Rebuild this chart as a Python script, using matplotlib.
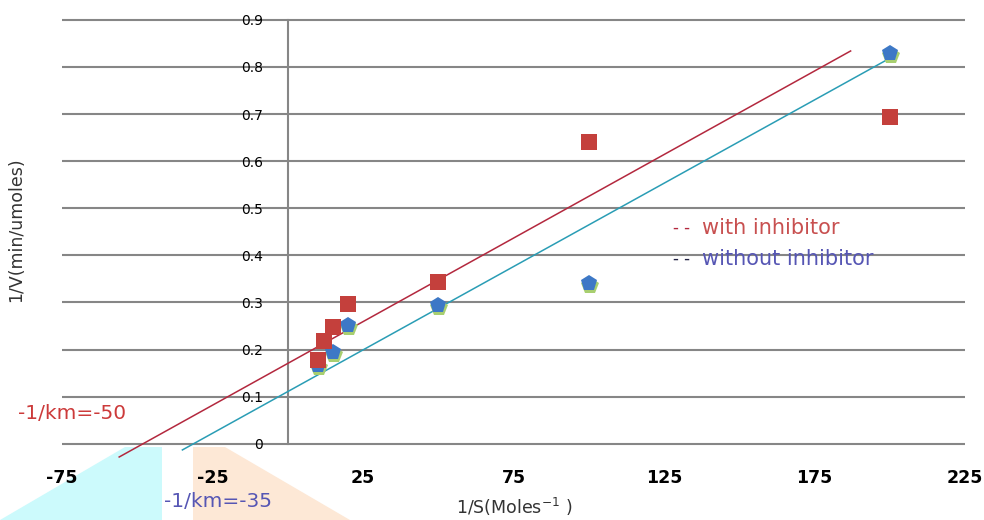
import matplotlib
matplotlib.use("Agg")
import matplotlib.pyplot as plt
import matplotlib.transforms as mtransforms
from matplotlib.patches import Polygon

plt.rcParams["font.family"] = ["DejaVu Sans"]

# data
inh_x = [10, 12, 15, 20, 50, 100, 200]
inh_y = [0.177, 0.219, 0.249, 0.296, 0.344, 0.641, 0.694]
noinh_x = [10, 15, 20, 50, 100, 200]
noinh_y = [0.168, 0.195, 0.253, 0.295, 0.342, 0.830]

# hand-drawn lines (end points)
inh_line_x = [-56, 187]
inh_line_y = [-0.028, 0.834]
noinh_line_x = [-35, 199]
noinh_line_y = [-0.013, 0.815]

x_ticks = [-75, -25, 25, 75, 125, 175, 225]
y_ticks = [0, 0.1, 0.2, 0.3, 0.4, 0.5, 0.6, 0.7, 0.8, 0.9]
y_tick_labels = ["0", "0.1", "0.2", "0.3", "0.4", "0.5", "0.6", "0.7", "0.8", "0.9"]

fig = plt.figure(figsize=(9.84, 5.2), dpi=100)

# pale decorative wedges under the axis
fig.patches.append(Polygon([(0 / 984, 0), (125 / 984, 73 / 520), (162 / 984, 73 / 520), (162 / 984, 0)],
                           closed=True, transform=fig.transFigure, facecolor="#ccfafc",
                           edgecolor="none", zorder=-5))
fig.patches.append(Polygon([(193 / 984, 73 / 520), (225 / 984, 73 / 520), (350 / 984, 0), (193 / 984, 0)],
                           closed=True, transform=fig.transFigure, facecolor="#fde8d6",
                           edgecolor="none", zorder=-5))

ax = fig.add_axes([62 / 984, 1 - 465 / 520, 903 / 984, 447 / 520])
ax.patch.set_alpha(0)

ax.set_xlim(-75, 225)
ax.set_ylim(-0.045, 0.904)

ax.set_yticks(y_ticks)
ax.set_yticklabels(y_tick_labels, fontsize=12.5, color="#333333")
ax.set_xticks(x_ticks)
ax.set_xticklabels([str(v) for v in x_ticks], fontsize=12.5, color="black", fontweight="bold")
ax.tick_params(axis="y", length=0, pad=18)
ax.tick_params(axis="x", length=0, pad=3)

ax.grid(axis="y", color="#868686", linewidth=1.5, zorder=1)
ax.set_axisbelow(True)
for side in ("top", "right", "bottom"):
    ax.spines[side].set_visible(False)
ax.spines["left"].set_position(("data", 0))
ax.spines["left"].set_bounds(0, 0.9)
ax.spines["left"].set_color("#868686")
ax.spines["left"].set_linewidth(1.5)

ax.plot(inh_line_x, inh_line_y, color="#b3283e", linewidth=1.1, zorder=3, clip_on=False)
ax.plot(noinh_line_x, noinh_line_y, color="#2a9db5", linewidth=1.1, zorder=3, clip_on=False)

shadow = mtransforms.offset_copy(ax.transData, fig=fig, x=1, y=-3, units="dots")
ax.plot(noinh_x, noinh_y, linestyle="", marker="p", markersize=13, color="#a8cf70",
        markeredgewidth=0, transform=shadow, zorder=4)
ax.plot(noinh_x, noinh_y, linestyle="", marker="p", markersize=12, color="#3d78c6",
        markeredgewidth=0, zorder=5)
ax.plot(inh_x, inh_y, linestyle="", marker="s", markersize=12, color="#c4403c",
        markeredgewidth=0, zorder=6)

ax.text(-89.5, 0.065, "-1/km=-50", color="#cc3a3a", fontsize=14.5, ha="left", va="center")
ax.text(-41, -0.122, "-1/km=-35", color="#5656b4", fontsize=14.5, ha="left", va="center",
        clip_on=False)
ax.text(128, 0.458, "- -", color="#b3283e", fontsize=12, ha="left", va="center")
ax.text(137.5, 0.458, "with inhibitor", color="#c85050", fontsize=15, ha="left", va="center")
ax.text(128, 0.392, "- -", color="#222244", fontsize=12, ha="left", va="center")
ax.text(137.5, 0.392, "without inhibitor", color="#5656b4", fontsize=15, ha="left", va="center")

fig.text(514 / 984, 1 - 507 / 520, "1/S(Moles$^{-1}$ )", fontsize=12.5, color="#333333",
         ha="center", va="center")
fig.text(16 / 984, 1 - 230 / 520, "1/V(min/umoles)", fontsize=12.5, color="#333333",
         ha="center", va="center", rotation=90)

fig.savefig("out.png", dpi=100)
